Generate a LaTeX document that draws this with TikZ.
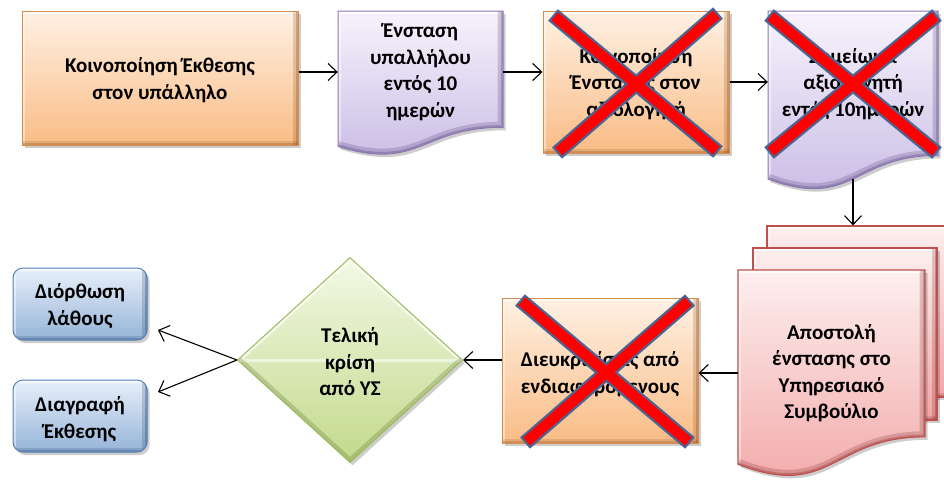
\documentclass[tikz,border=0pt]{standalone}
\usepackage{fontspec}
\setmainfont{Carlito}
\usetikzlibrary{arrows.meta,shapes.geometric,shadows}

\definecolor{orTop}{HTML}{FFF1E3}
\definecolor{orBot}{HTML}{F9BC86}
\definecolor{orLine}{HTML}{D98B4C}
\definecolor{orDark}{HTML}{8A4A16}
\definecolor{puTop}{HTML}{F7F3FC}
\definecolor{puBot}{HTML}{C6B9E4}
\definecolor{puLine}{HTML}{8D78B2}
\definecolor{puDark}{HTML}{4A3570}
\definecolor{piTop}{HTML}{FDEFEF}
\definecolor{piBot}{HTML}{F2A5A5}
\definecolor{piLine}{HTML}{C0504D}
\definecolor{piDark}{HTML}{7A2220}
\definecolor{grTop}{HTML}{F3F9E6}
\definecolor{grBot}{HTML}{C2D98A}
\definecolor{grLine}{HTML}{9BBB59}
\definecolor{grDark}{HTML}{556B25}
\definecolor{blTop}{HTML}{E8F0FA}
\definecolor{blBot}{HTML}{95B3D8}
\definecolor{blLine}{HTML}{4F81BD}
\definecolor{blDark}{HTML}{24466E}
\definecolor{xRed}{HTML}{FF0000}
\definecolor{xRim}{HTML}{4B6692}

\tikzset{
  lbl/.style={font=\bfseries\fontsize{21}{26.5}\selectfont, align=center, text=black},
  softshadow/.style={drop shadow={shadow xshift=2.5pt, shadow yshift=-3pt, opacity=0.28, fill=black!70}},
  % bevelled edges for rectangular steps: light top/left, dark right/bottom
  bevel/.style={path picture={
      \draw[white, opacity=0.75, line width=6pt] (path picture bounding box.north west) -- (path picture bounding box.north east);
      \draw[white, opacity=0.45, line width=5pt] (path picture bounding box.north west) -- (path picture bounding box.south west);
      \draw[#1, opacity=0.22, line width=11pt] (path picture bounding box.north east) -- (path picture bounding box.south east);
      \draw[#1, opacity=0.30, line width=5pt] (path picture bounding box.north east) -- (path picture bounding box.south east);
      \draw[#1, opacity=0.18, line width=9pt] (path picture bounding box.south west) -- (path picture bounding box.south east);
      \draw[#1, opacity=0.25, line width=4pt] (path picture bounding box.south west) -- (path picture bounding box.south east);
  }},
  diabevel/.style={path picture={
      \draw[white, opacity=0.7, line width=6pt] (path picture bounding box.west) -- (path picture bounding box.north) -- (path picture bounding box.east);
      \draw[white, opacity=0.55, line width=3pt] (path picture bounding box.west) -- (path picture bounding box.east);
      \draw[#1, opacity=0.25, line width=8pt] (path picture bounding box.west) -- (path picture bounding box.south) -- (path picture bounding box.east);
  }},
  orangebox/.style={rectangle, draw=orLine, line width=1pt, top color=orTop, bottom color=orBot, softshadow, bevel=orDark, inner sep=0pt},
  bluebox/.style={rectangle, rounded corners=10pt, draw=blLine, line width=1pt, top color=blTop, bottom color=blBot, softshadow, bevel=blDark, inner sep=0pt},
  greendia/.style={diamond, draw=grLine, line width=1pt, top color=grTop, bottom color=grBot, softshadow, diabevel=grDark, inner sep=0pt},
  pinkpage/.style={rectangle, draw=piLine, line width=1.2pt, top color=piTop, bottom color=piBot, softshadow, bevel=piDark, inner sep=0pt},
  purpledoc/.style={draw=puLine, line width=1pt, top color=puTop, bottom color=puBot, softshadow},
  pinkdoc/.style={draw=piLine, line width=1.2pt, top color=piTop, bottom color=piBot, softshadow},
  arr/.style={line width=1.1pt, -{Straight Barb[length=9pt,width=17pt,line width=1.1pt]}},
  xrim/.style={line width=15pt, draw=xRim},
  xfill/.style={line width=10.5pt, draw=xRed, shorten <=2.2pt, shorten >=2.2pt},
}

% flow-chart document outline with bevelled edges: style, edge colour, left, top, width, height
\newcommand\docshape[6]{%
  \path[#1, path picture={
      \draw[white, opacity=0.75, line width=6pt] (#3,#4) -- ({#3+#5},#4);
      \draw[white, opacity=0.45, line width=5pt] (#3,#4) -- (#3,{#4+#6});
      \draw[#2, opacity=0.22, line width=11pt] ({#3+#5},#4) -- ({#3+#5},{#4+0.802*#6})
        .. controls ({#3+0.5*#5},{#4+0.802*#6}) and ({#3+0.5*#5},{#4+1.107*#6}) .. (#3,{#4+0.934*#6});
      \draw[#2, opacity=0.28, line width=4.5pt] ({#3+#5},#4) -- ({#3+#5},{#4+0.802*#6})
        .. controls ({#3+0.5*#5},{#4+0.802*#6}) and ({#3+0.5*#5},{#4+1.107*#6}) .. (#3,{#4+0.934*#6});
    }]
    (#3,#4) -- ({#3+#5},#4) -- ({#3+#5},{#4+0.802*#6})
    .. controls ({#3+0.5*#5},{#4+0.802*#6}) and ({#3+0.5*#5},{#4+1.107*#6})
    .. (#3,{#4+0.934*#6}) -- cycle;}

% red X drawn over a cancelled step: two bars given by their end points
\newcommand\strike[4]{%
  \draw[xrim] #1 -- #2;
  \draw[xrim] #3 -- #4;
  \draw[xfill] #1 -- #2;
  \draw[xfill] #3 -- #4;}

\begin{document}
\begin{tikzpicture}[x=1pt,y=-1pt]
  \useasboundingbox (0,0) rectangle (944,479);
  \clip (0,0) rectangle (944,479);

  % top row
  \node[orangebox, minimum width=276, minimum height=134] (b1) at (160,78) {};
  \node[lbl] at (160,80) {Κοινοποίηση Έκθεσης\\στον υπάλληλο};

  \docshape{purpledoc}{puDark}{338}{11}{165}{145}
  \node[lbl, minimum width=165, minimum height=120, inner sep=0pt] (d2) at (420.5,72) {Ένσταση\\υπαλλήλου\\εντός 10\\ημερών};

  \node[orangebox, minimum width=186, minimum height=142] (b3) at (636,82) {};
  \node[lbl] at (636,84) {Κοινοποίηση\\Ένστασης στον\\αξιολογητή};

  \docshape{purpledoc}{puDark}{768}{11}{170}{180}
  \node[lbl, minimum width=170, minimum height=140, inner sep=0pt] (d4) at (853,84) {Σημείωμα\\αξιολογητή\\εντός 10ημερών};
  \coordinate (d4b) at (853,179);

  % stacked documents
  \node[pinkpage, minimum width=186, minimum height=171] (mback) at (860,311.5) {};
  \node[pinkpage, minimum width=184, minimum height=172] (mmid) at (845,334) {};
  \docshape{pinkdoc}{piDark}{738}{270}{187}{208}
  \node[lbl, minimum width=187, minimum height=150, inner sep=0pt] (m) at (831.5,373) {Αποστολή\\ένστασης στο\\Υπηρεσιακό\\Συμβούλιο};

  % bottom row
  \node[orangebox, minimum width=196, minimum height=145] (b5) at (600,370.5) {};
  \node[lbl] at (600,374) {Διευκρινίσεις από\\ενδιαφερόμενους};

  \node[greendia, minimum width=225, minimum height=205] (dia) at (350,360) {};
  \node[lbl] at (350,362) {Τελική\\κρίση\\από ΥΣ};

  \node[bluebox, minimum width=134, minimum height=72] (o1) at (80,304) {};
  \node[lbl] at (80,306) {Διόρθωση\\λάθους};
  \node[bluebox, minimum width=134, minimum height=72] (o2) at (80,416) {};
  \node[lbl] at (80,419) {Διαγραφή\\Έκθεσης};

  \coordinate (e1) at (158,330);
  \coordinate (e2) at (158,392);

  % connectors
  \draw[arr] (b1.east |- d2.west) -- (d2.west);
  \draw[arr] (d2.east) -- (d2.east -| b3.west);
  \draw[arr] (b3.east) -- (b3.east -| d4.west);
  \draw[arr] (d4b) -- (d4b |- mback.north);
  \draw[arr] (m.west) -- (m.west -| b5.east);
  \draw[arr] (b5.west |- dia.east) -- (dia.east);
  \draw[arr] (dia.west) -- (e1);
  \draw[arr] (dia.west) -- (e2);

  % cancelled steps
  \strike{(553,15)}{(718,152)}{(718,13)}{(557,153)}
  \strike{(769,15)}{(937,153)}{(937,15)}{(769,153)}
  \strike{(520,300)}{(690,443)}{(690,300)}{(525,443)}
\end{tikzpicture}
\end{document}
